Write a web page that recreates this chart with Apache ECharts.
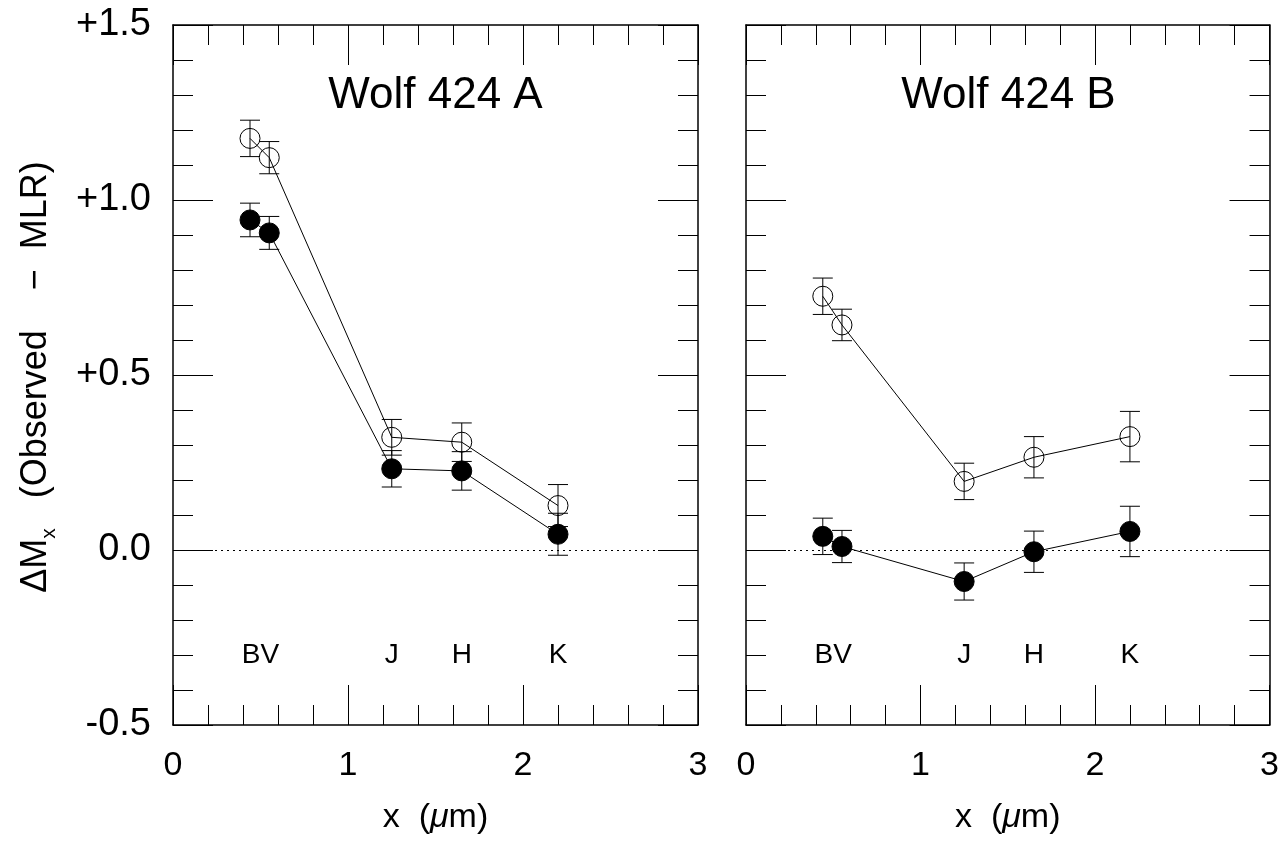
<!DOCTYPE html>
<html>
<head>
<meta charset="utf-8">
<script src="https://cdn.jsdelivr.net/npm/echarts@6/dist/echarts.min.js"></script>
<style>
html,body{margin:0;padding:0;background:#fff;}
#chart{width:1282px;height:844px;}
</style>
</head>
<body>
<div id="chart"></div>
<script>
// ---- data ----
const bandX = [0.44, 0.55, 1.25, 1.65, 2.20];
const bandLabels = ['BV', 'J', 'H', 'K'];
const bandLabelX = [0.50, 1.25, 1.65, 2.20];
const bandLabelY = -0.30;
const xTicks = [0, 1, 2, 3];
const yTicks = [-0.5, 0.0, 0.5, 1.0, 1.5];
const panelTitles = ['Wolf 424 A', 'Wolf 424 B'];

const aOpen = [1.176, 1.121, 0.322, 0.308, 0.127];
const aOpenErr = [0.052, 0.046, 0.051, 0.055, 0.060];
const aFilled = [0.943, 0.906, 0.232, 0.226, 0.045];
const aFilledErr = [0.048, 0.047, 0.052, 0.055, 0.060];

const bOpen = [0.725, 0.643, 0.196, 0.265, 0.324];
const bOpenErr = [0.052, 0.045, 0.052, 0.059, 0.072];
const bFilled = [0.039, 0.010, -0.090, -0.005, 0.053];
const bFilledErr = [0.052, 0.046, 0.053, 0.059, 0.072];

// ---- chart ----
const FONT = 'Liberation Sans, Arial, Helvetica, sans-serif';
const chart = echarts.init(document.getElementById('chart'), null, {renderer: 'canvas'});

const grids = [
  {left: 173, top: 25, width: 525, height: 700},
  {left: 746, top: 25, width: 525, height: 700}
];

function xAxisDef(gi, pos, labels) {
  return {
    type: 'value', gridIndex: gi, position: pos,
    min: xTicks[0], max: xTicks[xTicks.length - 1], interval: 1,
    axisLine: {show: true, onZero: false, lineStyle: {color: '#000', width: 1.5}},
    axisTick: {show: true, inside: true, length: 40, lineStyle: {color: '#000', width: 1}},
    minorTick: {show: true, splitNumber: 5, length: 20, lineStyle: {color: '#000', width: 1}},
    splitLine: {show: false},
    axisLabel: {show: labels, margin: 24, color: '#000', fontSize: 34, fontFamily: FONT},
    name: labels ? 'x  ({it|μ}m)' : '',
    nameLocation: 'middle', nameGap: 76,
    nameTextStyle: {color: '#000', fontSize: 34, fontFamily: FONT,
      rich: {it: {fontSize: 34, fontFamily: FONT, fontStyle: 'italic', color: '#000'}}}
  };
}
function yAxisDef(gi, pos, labels) {
  return {
    type: 'value', gridIndex: gi, position: pos,
    min: yTicks[0], max: yTicks[yTicks.length - 1], interval: 0.5,
    axisLine: {show: true, onZero: false, lineStyle: {color: '#000', width: 1.5}},
    axisTick: {show: true, inside: true, length: 40, lineStyle: {color: '#000', width: 1}},
    minorTick: {show: true, splitNumber: 5, length: 20, lineStyle: {color: '#000', width: 1}},
    splitLine: {show: false},
    axisLabel: {show: labels, margin: 22, color: '#000', fontSize: 38, fontFamily: FONT,
      formatter: v => (v > 0 ? '+' : '') + v.toFixed(1)}
  };
}

function errSeries(xi, yi, vals, errs) {
  return {
    type: 'custom', xAxisIndex: xi, yAxisIndex: yi, z: 3, silent: true,
    data: bandX.map((x, i) => [x, vals[i], errs[i]]),
    encode: {x: 0, y: 1},
    renderItem: function (params, api) {
      const x = api.value(0), y = api.value(1), e = api.value(2);
      const t = api.coord([x, y + e]);
      const b = api.coord([x, y - e]);
      const w = 10;
      const st = {stroke: '#000', lineWidth: 1};
      return {type: 'group', children: [
        {type: 'line', shape: {x1: t[0], y1: t[1], x2: b[0], y2: b[1]}, style: st},
        {type: 'line', shape: {x1: t[0] - w, y1: t[1], x2: t[0] + w, y2: t[1]}, style: st},
        {type: 'line', shape: {x1: b[0] - w, y1: b[1], x2: b[0] + w, y2: b[1]}, style: st}
      ]};
    }
  };
}
function lineSeries(xi, yi, vals, filled, withZero) {
  const s = {
    type: 'line', xAxisIndex: xi, yAxisIndex: yi, z: 4, silent: true,
    data: bandX.map((x, i) => [x, vals[i]]),
    symbol: 'circle', symbolSize: 20, showSymbol: true,
    lineStyle: {color: '#000', width: 1},
    itemStyle: filled ? {color: '#000', borderColor: '#000', borderWidth: 1}
                      : {color: 'rgba(0,0,0,0)', borderColor: '#000', borderWidth: 1},
    emphasis: {disabled: true}
  };
  if (withZero) {
    s.markLine = {silent: true, symbol: 'none', animation: false,
      label: {show: false},
      lineStyle: {color: '#000', width: 1, type: [2, 4]},
      data: [{yAxis: 0}]};
  }
  return s;
}
function bandLabelSeries(xi, yi) {
  return {
    type: 'scatter', xAxisIndex: xi, yAxisIndex: yi, z: 5, silent: true,
    symbolSize: 1, itemStyle: {color: 'rgba(0,0,0,0)'},
    data: bandLabelX.map((x, i) => [x, bandLabelY, bandLabels[i]]),
    label: {show: true, position: 'inside', color: '#000', fontSize: 28, fontFamily: FONT,
      textBorderWidth: 0, textBorderColor: 'transparent', opacity: 1,
      formatter: p => p.data[2]}
  };
}

const option = {
  animation: false,
  backgroundColor: '#fff',
  grid: grids.map(g => Object.assign({containLabel: false}, g)),
  xAxis: [
    xAxisDef(0, 'bottom', true), xAxisDef(0, 'top', false),
    xAxisDef(1, 'bottom', true), xAxisDef(1, 'top', false)
  ],
  yAxis: [
    yAxisDef(0, 'left', true), yAxisDef(0, 'right', false),
    yAxisDef(1, 'left', false), yAxisDef(1, 'right', false)
  ],
  graphic: [
    {type: 'text', x: 435.5, y: 96, z: 10,
      style: {text: panelTitles[0], font: '44px ' + FONT, fill: '#000', align: 'center', verticalAlign: 'middle'}},
    {type: 'text', x: 1008.5, y: 96, z: 10,
      style: {text: panelTitles[1], font: '44px ' + FONT, fill: '#000', align: 'center', verticalAlign: 'middle'}},
    {type: 'text', x: 36, y: 377, rotation: Math.PI / 2, z: 10,
      style: {text: 'ΔM{sub|x}   (Observed    −  MLR)', fontSize: 36, fontFamily: FONT, fill: '#000',
        align: 'center', verticalAlign: 'middle',
        rich: {sub: {fontSize: 21, fontFamily: FONT, fill: '#000', verticalAlign: 'bottom', padding: [0, 0, -6, 0]}}}}
  ],
  series: [
    errSeries(0, 0, aOpen, aOpenErr),
    errSeries(0, 0, aFilled, aFilledErr),
    lineSeries(0, 0, aOpen, false, true),
    lineSeries(0, 0, aFilled, true, false),
    bandLabelSeries(0, 0),
    errSeries(2, 2, bOpen, bOpenErr),
    errSeries(2, 2, bFilled, bFilledErr),
    lineSeries(2, 2, bOpen, false, true),
    lineSeries(2, 2, bFilled, true, false),
    bandLabelSeries(2, 2)
  ]
};
chart.setOption(option);
</script>
</body>
</html>
